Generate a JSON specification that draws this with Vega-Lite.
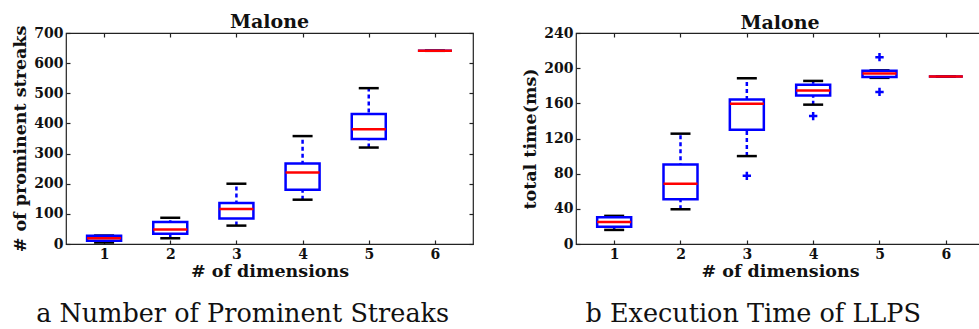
{
  "$schema": "https://vega.github.io/schema/vega-lite/v6.json",
  "background": "white",
  "padding": {"left": 11, "top": 12, "right": 0, "bottom": 0},
  "config": {
    "font": "DejaVu Serif",
    "view": {"stroke": "#222", "strokeWidth": 1.2},
    "axis": {
      "labelFont": "DejaVu Serif", "labelFontWeight": "bold", "labelFontSize": 14, "labelColor": "#111",
      "titleFont": "DejaVu Serif", "titleFontWeight": "bold", "titleFontSize": 17.5, "titleColor": "#111",
      "grid": false, "domain": false, "tickColor": "#222", "tickWidth": 1.2, "tickSize": -4, "labelPadding": 7
    },
    "title": {"font": "DejaVu Serif", "fontWeight": "bold", "fontSize": 19, "color": "#111"},
    "tick": {"opacity": 1},
    "concat": {"spacing": 46}
  },
  "datasets": {
    "streaks": [
      {"dim": 1, "lo": 5, "q1": 11, "med": 19, "q3": 27, "hi": 28},
      {"dim": 2, "lo": 19, "q1": 34, "med": 48, "q3": 73, "hi": 87},
      {"dim": 3, "lo": 61, "q1": 85, "med": 116, "q3": 136, "hi": 200},
      {"dim": 4, "lo": 147, "q1": 180, "med": 237, "q3": 267, "hi": 358},
      {"dim": 5, "lo": 320, "q1": 348, "med": 381, "q3": 431, "hi": 517},
      {"dim": 6, "lo": 641, "q1": 641, "med": 641, "q3": 641, "hi": 641}
    ],
    "times": [
      {"dim": 1, "lo": 16, "q1": 19.5, "med": 25, "q3": 30.5, "hi": 32},
      {"dim": 2, "lo": 39.5, "q1": 51, "med": 68.5, "q3": 90.5, "hi": 125.5},
      {"dim": 3, "lo": 100, "q1": 130, "med": 159.5, "q3": 164.5, "hi": 188.5},
      {"dim": 4, "lo": 158.5, "q1": 169, "med": 174.5, "q3": 181, "hi": 185.5},
      {"dim": 5, "lo": 189, "q1": 190, "med": 194, "q3": 197, "hi": 197.5},
      {"dim": 6, "lo": 190.5, "q1": 190.5, "med": 190.5, "q3": 190.5, "hi": 190.5}
    ],
    "timeOutliers": [
      {"dim": 3, "v": 77.5},
      {"dim": 4, "v": 145.5},
      {"dim": 5, "v": 212.5},
      {"dim": 5, "v": 173}
    ]
  },
  "hconcat": [
    {
      "title": {"text": "a Number of Prominent Streaks", "orient": "bottom", "font": "DejaVu Serif", "fontWeight": "normal", "fontSize": 25.5, "color": "#111", "offset": 22, "anchor": "middle"},
      "vconcat": [
        {
          "width": 407, "height": 211,
          "title": {"text": "Malone", "offset": -7},
          "data": {"name": "streaks"},
          "resolve": {"axis": {"x": "independent", "y": "independent"}},
          "layer": [
            {
              "mark": {"type": "rule", "color": "blue", "strokeWidth": 2.5, "strokeDash": [4, 3]},
              "encoding": {
                "x": {"field": "dim", "type": "quantitative", "scale": {"domain": [0.5, 6.5], "nice": false, "zero": false},
                      "axis": {"orient": "bottom", "values": [1, 2, 3, 4, 5, 6], "title": "# of dimensions", "titlePadding": 1, "format": "d"}},
                "y": {"field": "lo", "type": "quantitative", "scale": {"domain": [0, 700], "nice": false},
                      "axis": {"orient": "left", "values": [0, 100, 200, 300, 400, 500, 600, 700], "title": "# of prominent streaks", "titlePadding": 4}},
                "y2": {"field": "hi"}
              }
            },
            {
              "mark": {"type": "tick", "orient": "horizontal", "color": "black", "size": 20, "thickness": 2.5},
              "encoding": {
                "x": {"field": "dim", "type": "quantitative", "axis": {"orient": "top", "values": [1, 2, 3, 4, 5, 6], "labels": false, "title": null}},
                "y": {"field": "lo", "type": "quantitative", "axis": {"orient": "right", "values": [0, 100, 200, 300, 400, 500, 600, 700], "labels": false, "title": null}}
              }
            },
            {
              "mark": {"type": "tick", "orient": "horizontal", "color": "black", "size": 20, "thickness": 2.5},
              "encoding": {
                "x": {"field": "dim", "type": "quantitative", "axis": null},
                "y": {"field": "hi", "type": "quantitative", "axis": null}
              }
            },
            {
              "mark": {"type": "bar", "fill": "white", "stroke": "blue", "strokeWidth": 2.5, "size": 34, "orient": "vertical"},
              "encoding": {
                "x": {"field": "dim", "type": "quantitative", "axis": null},
                "y": {"field": "q1", "type": "quantitative", "axis": null},
                "y2": {"field": "q3"}
              }
            },
            {
              "mark": {"type": "tick", "orient": "horizontal", "color": "red", "size": 34, "thickness": 2.5},
              "encoding": {
                "x": {"field": "dim", "type": "quantitative", "axis": null},
                "y": {"field": "med", "type": "quantitative", "axis": null}
              }
            }
          ]
        }
      ]
    },
    {
      "title": {"text": "b Execution Time of LLPS", "orient": "bottom", "font": "DejaVu Serif", "fontWeight": "normal", "fontSize": 25.5, "color": "#111", "offset": 22, "anchor": "middle"},
      "vconcat": [
        {
          "width": 408, "height": 211,
          "title": {"text": "Malone", "offset": -7},
          "resolve": {"axis": {"x": "independent", "y": "independent"}},
          "layer": [
            {
              "data": {"name": "times"},
              "mark": {"type": "rule", "color": "blue", "strokeWidth": 2.5, "strokeDash": [4, 3]},
              "encoding": {
                "x": {"field": "dim", "type": "quantitative", "scale": {"domain": [0.5, 6.5], "nice": false, "zero": false},
                      "axis": {"orient": "bottom", "values": [1, 2, 3, 4, 5, 6], "title": "# of dimensions", "titlePadding": 1, "format": "d"}},
                "y": {"field": "lo", "type": "quantitative", "scale": {"domain": [0, 240], "nice": false},
                      "axis": {"orient": "left", "values": [0, 40, 80, 120, 160, 200, 240], "title": "total time(ms)", "titlePadding": 4}},
                "y2": {"field": "hi"}
              }
            },
            {
              "data": {"name": "times"},
              "mark": {"type": "tick", "orient": "horizontal", "color": "black", "size": 20, "thickness": 2.5},
              "encoding": {
                "x": {"field": "dim", "type": "quantitative", "axis": {"orient": "top", "values": [1, 2, 3, 4, 5, 6], "labels": false, "title": null}},
                "y": {"field": "lo", "type": "quantitative", "axis": {"orient": "right", "values": [0, 40, 80, 120, 160, 200, 240], "labels": false, "title": null}}
              }
            },
            {
              "data": {"name": "times"},
              "mark": {"type": "tick", "orient": "horizontal", "color": "black", "size": 20, "thickness": 2.5},
              "encoding": {
                "x": {"field": "dim", "type": "quantitative", "axis": null},
                "y": {"field": "hi", "type": "quantitative", "axis": null}
              }
            },
            {
              "data": {"name": "times"},
              "mark": {"type": "bar", "fill": "white", "stroke": "blue", "strokeWidth": 2.5, "size": 34, "orient": "vertical"},
              "encoding": {
                "x": {"field": "dim", "type": "quantitative", "axis": null},
                "y": {"field": "q1", "type": "quantitative", "axis": null},
                "y2": {"field": "q3"}
              }
            },
            {
              "data": {"name": "times"},
              "mark": {"type": "tick", "orient": "horizontal", "color": "red", "size": 34, "thickness": 2.5},
              "encoding": {
                "x": {"field": "dim", "type": "quantitative", "axis": null},
                "y": {"field": "med", "type": "quantitative", "axis": null}
              }
            },
            {
              "data": {"name": "timeOutliers"},
              "mark": {"type": "point", "shape": "M-1,0H1M0,-1V1", "filled": false, "stroke": "blue", "strokeWidth": 2.5, "size": 70, "opacity": 1},
              "encoding": {
                "x": {"field": "dim", "type": "quantitative", "axis": null},
                "y": {"field": "v", "type": "quantitative", "axis": null}
              }
            }
          ]
        }
      ]
    }
  ]
}
